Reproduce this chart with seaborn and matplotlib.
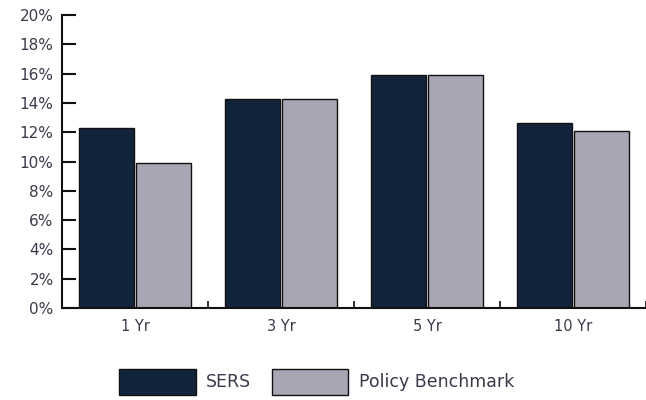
import matplotlib
matplotlib.use('Agg')
import matplotlib.pyplot as plt
import matplotlib.ticker as mticker
import seaborn as sns
import pandas as pd
import numpy as np

# data
periods = ['1 Yr', '3 Yr', '5 Yr', '10 Yr']
sers = [12.3, 14.3, 15.9, 12.6]
benchmark = [9.9, 14.3, 15.9, 12.1]
series_names = ['SERS', 'Policy Benchmark']
y_ticks = [0, 2, 4, 6, 8, 10, 12, 14, 16, 18, 20]

df = pd.DataFrame({
    'period': periods * 2,
    'ret': sers + benchmark,
    'series': [series_names[0]] * 4 + [series_names[1]] * 4,
})

sns.set_style('white')
plt.rcParams['font.family'] = ['DejaVu Sans']

fig = plt.figure(figsize=(6.46, 4.0), dpi=100)
ax = fig.add_axes([62 / 646, 92 / 400, 584 / 646, 293 / 400])

sns.barplot(data=df, x='period', y='ret', hue='series',
            palette=['#0b2342', '#a6a4b6'], edgecolor='#111111',
            linewidth=1.0, width=0.79, gap=0.05, ax=ax, legend=True)

ax.set_xlim(-0.5, 3.5)
ax.set_ylim(0, 20)
ax.set_yticks(y_ticks)
ax.yaxis.set_major_formatter(mticker.FuncFormatter(lambda v, p: f'{int(v)}%'))
ax.set_xticks([0.5, 1.5, 2.5, 3.5], minor=True)
ax.tick_params(axis='y', direction='in', length=10, width=1.5, colors='#111111',
               labelcolor='#3a3a4a', labelsize=11, pad=6, left=True)
ax.tick_params(axis='x', which='major', length=0, labelcolor='#3a3a4a',
               labelsize=10.5, pad=8)
ax.tick_params(axis='x', which='minor', direction='in', length=5, width=1.2,
               colors='#111111', bottom=True)
ax.set_xlabel('')
ax.set_ylabel('')

for side in ['top', 'right']:
    ax.spines[side].set_visible(False)
for side in ['left', 'bottom']:
    ax.spines[side].set_color('#111111')
    ax.spines[side].set_linewidth(1.5)

handles, labels = ax.get_legend_handles_labels()
ax.legend(handles, labels, loc='upper center', bbox_to_anchor=(0.436, -0.155),
          ncol=2, frameon=False, handlelength=4.4, handleheight=1.9,
          fontsize=12.5, labelcolor='#3a3a4a', columnspacing=1.2,
          handletextpad=0.6)

fig.savefig('out.png', dpi=100)
